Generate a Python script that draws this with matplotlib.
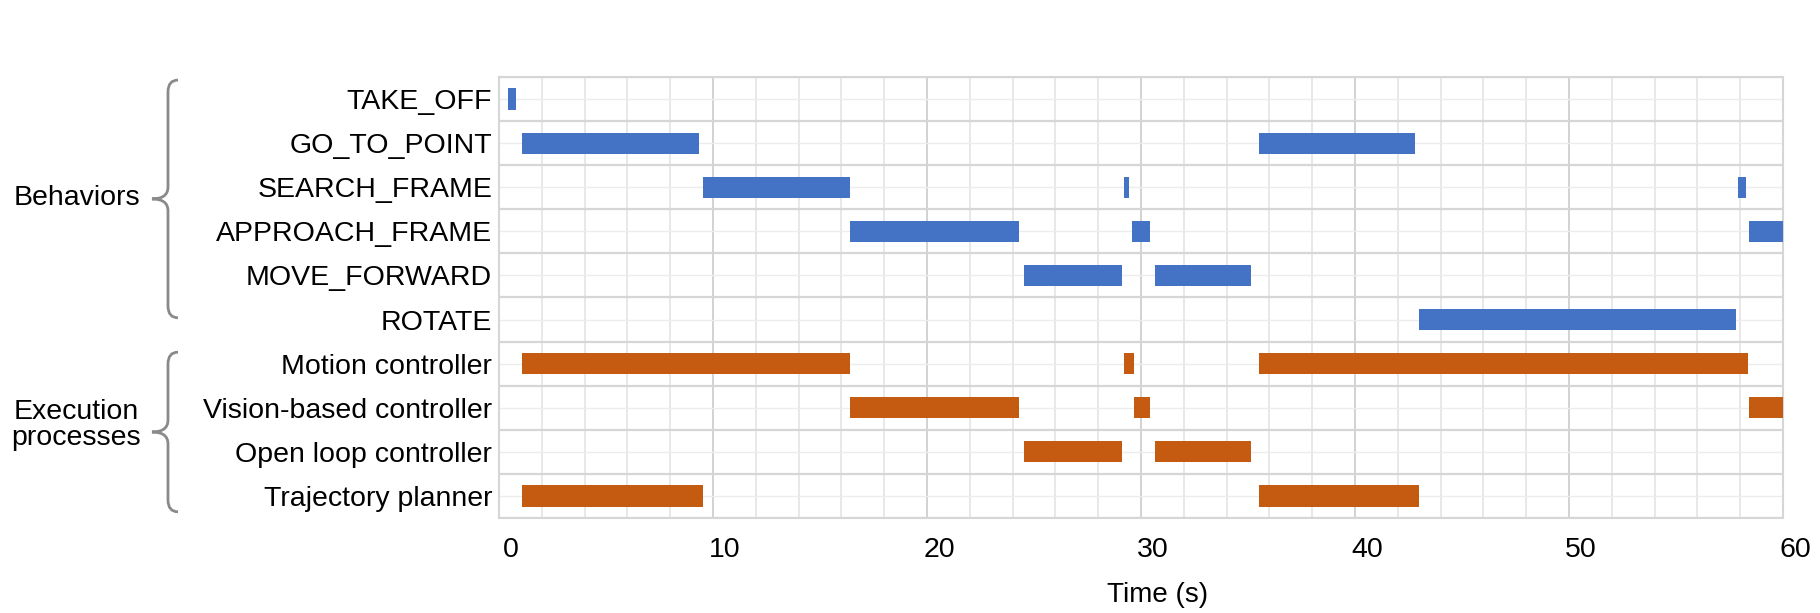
import numpy as np
import matplotlib.pyplot as plt
from matplotlib.path import Path
from matplotlib.patches import PathPatch
from matplotlib.transforms import blended_transform_factory, ScaledTranslation

# rows, top to bottom
behaviors = ['TAKE_OFF', 'GO_TO_POINT', 'SEARCH_FRAME', 'APPROACH_FRAME',
             'MOVE_FORWARD', 'ROTATE']
processes = ['Motion controller', 'Vision-based controller',
             'Open loop controller', 'Trajectory planner']

# active intervals (start, end) in seconds
behavior_spans = [
    [(0.4, 0.8)],
    [(1.05, 9.35), (35.5, 42.8)],
    [(9.55, 16.4), (29.2, 29.45), (57.9, 58.25)],
    [(16.4, 24.3), (29.6, 30.4), (58.4, 60.0)],
    [(24.55, 29.1), (30.65, 35.15)],
    [(43.0, 57.8)],
]
process_spans = [
    [(1.05, 16.4), (29.2, 29.65), (35.5, 58.35)],
    [(16.4, 24.3), (29.65, 30.4), (58.4, 60.0)],
    [(24.55, 29.1), (30.65, 35.15)],
    [(1.05, 9.55), (35.5, 43.0)],
]

x_ticks = [0, 10, 20, 30, 40, 50, 60]

blue = '#4472C4'
orange = '#C55A11'

plt.rcParams['font.family'] = ['Liberation Sans', 'DejaVu Sans']

fig = plt.figure(figsize=(18.2, 6.13), dpi=100)
ax = fig.add_axes([0.2742, 0.155, 0.7055, 0.7194])

labels = behaviors + processes
spans = behavior_spans + process_spans
colors = [blue] * len(behaviors) + [orange] * len(processes)

for i, (row, c) in enumerate(zip(spans, colors)):
    ax.broken_barh([(s, e - s) for s, e in row], (i - 0.24, 0.48),
                   facecolors=c, edgecolor='none', zorder=3)

ax.set_xlim(0, 60)
ax.set_ylim(len(labels) - 0.5, -0.5)
ax.set_xticks(x_ticks)
ax.set_xticks(np.arange(0, 61, 2), minor=True)
ax.set_yticks(range(len(labels)))
ax.set_yticklabels(labels, fontsize=20.5)
ax.set_yticks(np.arange(-0.5, len(labels), 1), minor=True)
ax.tick_params(axis='both', which='both', length=0)
ax.tick_params(axis='x', labelsize=20.5, pad=14)
ax.tick_params(axis='y', pad=5)

# shift x tick labels a bit to the right like the original
off = ScaledTranslation(12 / 72 * 0.72, 0, fig.dpi_scale_trans)
for lab in ax.get_xticklabels():
    lab.set_transform(lab.get_transform() + off)

# grid: vertical major every 10 s, minor every 2 s;
# horizontal major at row boundaries, faint line through row centers
ax.grid(False)
for x in np.arange(0, 61, 2):
    ax.axvline(x, color='#cfcfcf' if x % 10 == 0 else '#e6e6e6',
               lw=1.3, zorder=1)
for y in np.arange(-0.5, len(labels), 1):
    ax.axhline(y, color='#d6d6d6', lw=1.6, zorder=1)
for y in range(len(labels)):
    ax.axhline(y, color='#ececec', lw=1.0, zorder=1)

for s in ax.spines.values():
    s.set_color('#d6d6d6')
    s.set_linewidth(1.5)

ax.set_xlabel('Time (s)', fontsize=20)
ax.xaxis.set_label_coords(0.5125, -0.145)


def brace(y0, y1, tr):
    # left-pointing curly brace, x in figure fraction, y in data rows
    xr, xm, xt = 0.0978, 0.0923, 0.0835
    r = 0.27
    ym = (y0 + y1) / 2
    verts = [(xr, y0), (xm, y0), (xm, y0 + r),
             (xm, ym - r),
             (xm, ym), (xt, ym),
             (xm, ym), (xm, ym + r),
             (xm, y1 - r),
             (xm, y1), (xr, y1)]
    codes = [Path.MOVETO, Path.CURVE3, Path.CURVE3,
             Path.LINETO,
             Path.CURVE3, Path.CURVE3,
             Path.CURVE3, Path.CURVE3,
             Path.LINETO,
             Path.CURVE3, Path.CURVE3]
    p = PathPatch(Path(verts, codes), transform=tr, fill=False,
                  edgecolor='#8a8a8a', lw=2.0, clip_on=False)
    fig.add_artist(p)


tr = blended_transform_factory(fig.transFigure, ax.transData)
brace(-0.43, 4.96, tr)
brace(5.74, 9.36, tr)

fig.text(0.042, 2.25, 'Behaviors', transform=tr, fontsize=20.5,
         ha='center', va='center')
fig.text(0.042, 7.4, 'Execution\nprocesses', transform=tr, fontsize=20.5,
         ha='center', va='center', linespacing=1.0)

fig.savefig('out.png', dpi=100, facecolor='white')
